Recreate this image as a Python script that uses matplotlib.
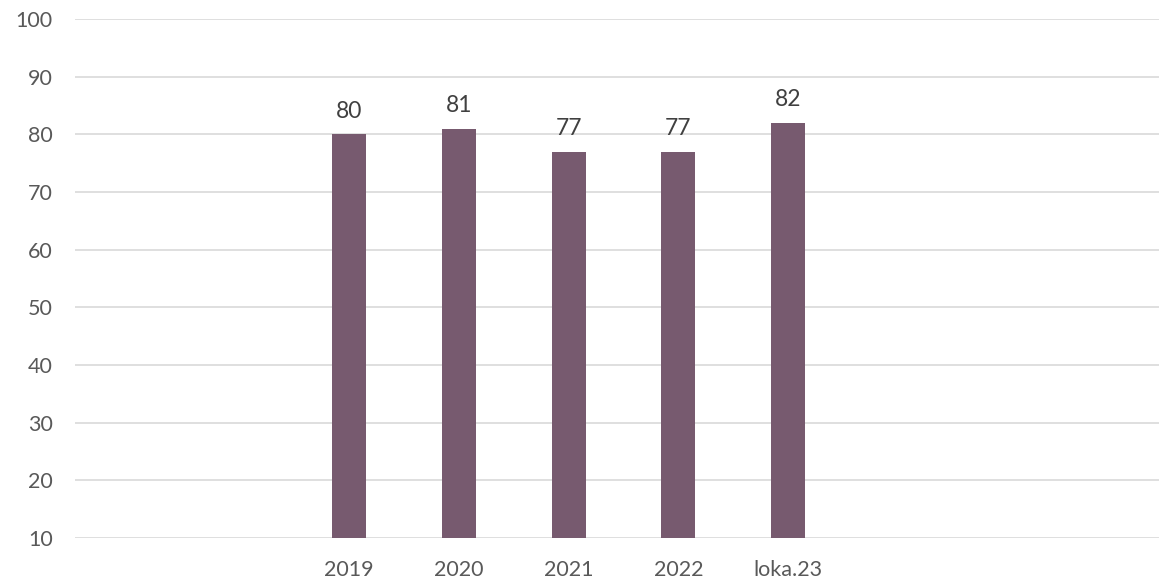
import matplotlib
matplotlib.use("Agg")
import matplotlib.pyplot as plt
import numpy as np

categories = ["2019", "2020", "2021", "2022", "loka.23"]
values = [80, 81, 77, 77, 82]
yticks = [10, 20, 30, 40, 50, 60, 70, 80, 90, 100]

plt.rcParams['font.family'] = ['Lato', 'DejaVu Sans']

W, H = 1159, 583
fig = plt.figure(figsize=(W / 100, H / 100), dpi=100)
ax = fig.add_axes([75 / W, (H - 538) / H, (1159 - 75) / W, (538 - 19) / H])

x = np.arange(len(categories))
bars = ax.bar(x, values, width=0.31, color="#775A6F", zorder=3)

ax.set_ylim(10, 100)
ax.set_xlim(-2.495, 7.377)
ax.set_yticks(yticks)
ax.set_xticks(x)
ax.set_xticklabels(categories)

ax.grid(axis="y", color="#d9d9d9", linewidth=1.2, zorder=0)
ax.set_axisbelow(True)
for s in ax.spines.values():
    s.set_visible(False)

ax.tick_params(axis="both", length=0, labelsize=15.5, labelcolor="#595959")
ax.tick_params(axis="y", pad=16)
ax.tick_params(axis="x", pad=16)

for xi, v in zip(x, values):
    ax.annotate(str(v), (xi, v), xytext=(0, 12), textcoords="offset points",
                ha="center", va="baseline", fontsize=16.5, color="#404040")

fig.savefig("out.png", dpi=100)
